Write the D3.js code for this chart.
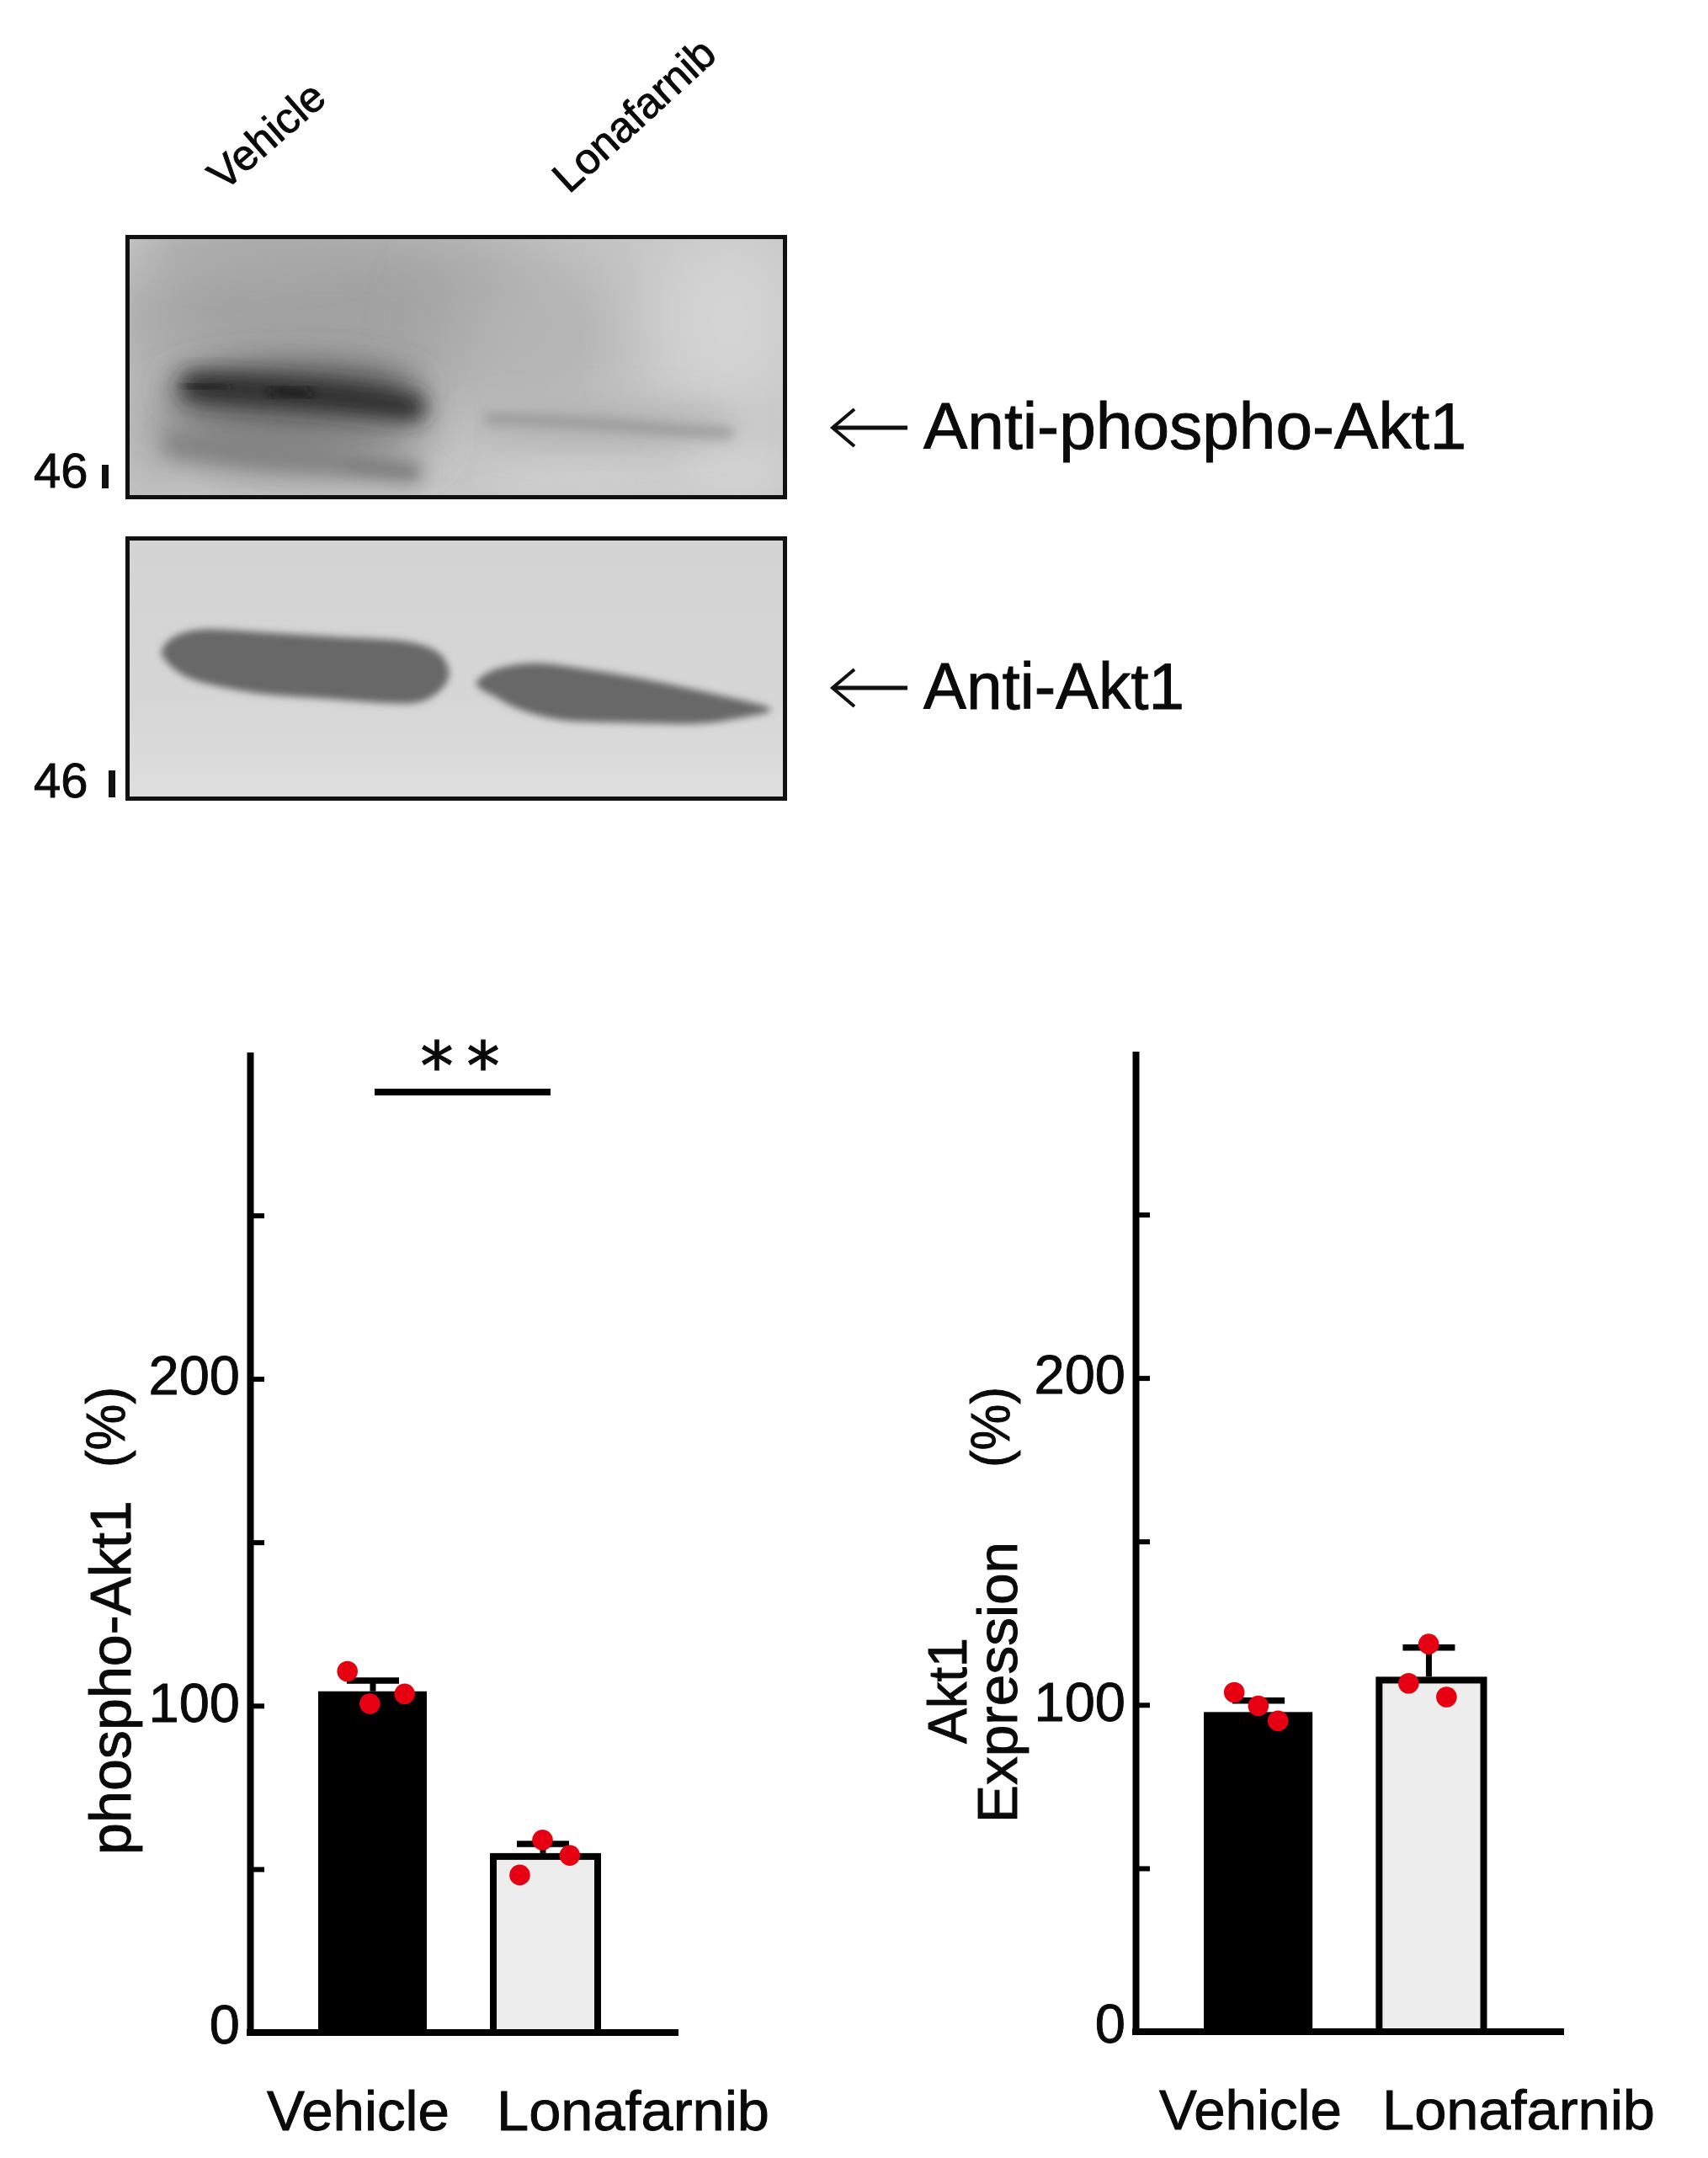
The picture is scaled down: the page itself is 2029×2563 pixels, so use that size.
<!DOCTYPE html>
<html><head><meta charset="utf-8">
<script src="https://cdnjs.cloudflare.com/ajax/libs/d3/7.8.5/d3.min.js"></script>
<style>
html,body{margin:0;padding:0;background:#fff}
svg{display:block;filter:blur(0.7px)}
text{font-family:"Liberation Sans",Arial,sans-serif;fill:#0a0a0a;stroke:#0a0a0a;stroke-width:0.9px}
</style></head><body>
<script>
// ---- data ----
const categories = ["Vehicle", "Lonafarnib"];
const yTicks = [0, 50, 100, 150, 200, 250];
const yLabelled = [0, 100, 200];

const phosphoMeans = [104.4, 54.9];
const phosphoErrors = [107.7, 57.7];
const phosphoPoints = [[110.5, 100.6, 103.6], [58.9, 54.2, 48.2]];
const phosphoJitter = [[-0.233, -0.028, 0.29], [-0.027, 0.222, -0.235]];

const exprMeans = [97.8, 108.6];
const exprErrors = [101.3, 117.5];
const exprPoints = [[103.8, 99.7, 95.1], [118.6, 106.6, 102.4]];
const exprJitter = [[-0.222, -0.002, 0.178], [-0.025, -0.208, 0.138]];

const blotLanes = ["Vehicle", "Lonafarnib"];
const blotMarker = "46";
const blotTargets = ["Anti-phospho-Akt1", "Anti-Akt1"];

// ---- page ----
const W = 2029, H = 2563;
const svg = d3.select("body").append("svg").attr("width", W).attr("height", H);
const defs = svg.append("defs");
[3, 4, 7, 10, 12, 20, 30, 45].forEach(s => defs.append("filter").attr("id", "b" + s)
  .attr("x", "-60%").attr("y", "-150%").attr("width", "220%").attr("height", "400%")
  .append("feGaussianBlur").attr("stdDeviation", s));

function clip(id, x, y, w, h) {
  defs.append("clipPath").attr("id", id).append("rect").attr("x", x).attr("y", y).attr("width", w).attr("height", h);
}
const curve = d3.line().curve(d3.curveCardinalClosed.tension(0.1));
const open = d3.line().curve(d3.curveCatmullRom);

// ---- upper blot ----
clip("c1", 151, 281, 782, 310);
const b1 = svg.append("g").attr("clip-path", "url(#c1)");
b1.append("rect").attr("x", 151).attr("y", 281).attr("width", 782).attr("height", 310).attr("fill", "#c6c6c6");
const blobs1 = [
  [170, 480, 50, 130, "#bdbdbd", 20],
  [400, 370, 260, 110, "#a2a2a2", 45],
  [640, 400, 110, 90, "#b4b4b4", 45],
  [300, 300, 120, 22, "#a9a9a9", 20],
  [865, 380, 80, 110, "#d6d6d6", 45],
  [700, 570, 120, 25, "#cfcfcf", 20],
  [870, 560, 70, 40, "#d2d2d2", 20],
  [345, 508, 165, 50, "#808080", 30],
  [350, 462, 150, 30, "#5c5c5c", 20],
  [720, 505, 160, 22, "#b0b0b0", 20]
];
b1.selectAll("ellipse").data(blobs1).join("ellipse")
  .attr("cx", d => d[0]).attr("cy", d => d[1]).attr("rx", d => d[2]).attr("ry", d => d[3])
  .attr("fill", d => d[4]).attr("filter", d => `url(#b${d[5]})`);
const streaks1 = [
  [[[205, 528], [300, 540], [400, 550], [490, 562]], "#7e7e7e", 24, 12],
  [[[415, 552], [490, 560]], "#7c7c7c", 8, 7],
  [[[232, 460], [330, 466], [420, 474], [490, 484]], "#2a2a2a", 32, 12],
  [[[325, 464], [365, 468]], "#181818", 10, 7],
  [[[225, 458], [265, 460]], "#222222", 10, 7],
  [[[580, 497], [690, 502], [790, 510], [865, 514]], "#959595", 11, 7]
];
b1.selectAll("path").data(streaks1).join("path").attr("d", d => open(d[0])).attr("fill", "none")
  .attr("stroke", d => d[1]).attr("stroke-width", d => d[2]).attr("stroke-linecap", "round")
  .attr("filter", d => `url(#b${d[3]})`);
svg.append("rect").attr("x", 151.5).attr("y", 281.5).attr("width", 781).attr("height", 309)
  .attr("fill", "none").attr("stroke", "#111").attr("stroke-width", 5);

// ---- lower blot ----
clip("c2", 151, 639, 782, 311);
const grad = defs.append("linearGradient").attr("id", "g2").attr("x1", 0).attr("y1", 0).attr("x2", 0).attr("y2", 1);
grad.append("stop").attr("offset", 0).attr("stop-color", "#d3d3d3");
grad.append("stop").attr("offset", 0.6).attr("stop-color", "#d6d6d6");
grad.append("stop").attr("offset", 1).attr("stop-color", "#dedede");
const b2 = svg.append("g").attr("clip-path", "url(#c2)");
b2.append("rect").attr("x", 151).attr("y", 639).attr("width", 782).attr("height", 311).attr("fill", "url(#g2)");
const bands2 = [
  [[193, 778], [205, 758], [242, 748], [320, 752], [400, 757], [480, 762], [520, 775], [533, 800], [520, 822], [485, 835], [383, 829], [300, 822], [225, 805]],
  [[566, 812], [590, 795], [638, 788], [700, 796], [765, 807], [850, 825], [915, 842], [880, 852], [829, 859], [750, 858], [670, 855], [620, 843], [590, 828]]
];
b2.selectAll("path").data(bands2).join("path").attr("d", d => curve(d)).attr("fill", "#676767")
  .attr("stroke", "#676767").attr("stroke-width", 1).attr("filter", "url(#b4)");
svg.append("rect").attr("x", 151.5).attr("y", 639.5).attr("width", 781).attr("height", 309)
  .attr("fill", "none").attr("stroke", "#111").attr("stroke-width", 5);

// ---- blot annotation ----
svg.selectAll("text.lane").data(blotLanes).join("text").attr("class", "lane")
  .attr("transform", (d, i) => `translate(${[266, 676][i]},${[228, 231][i]}) rotate(${[-41, -42.5][i]})`)
  .attr("font-size", 51).text(d => d);
[[40, 579, 120, 552, 580], [40, 947, 128, 915, 947]].forEach(m => {
  svg.append("text").attr("x", m[0]).attr("y", m[1]).attr("font-size", 58).text(blotMarker);
  svg.append("line").attr("x1", m[2] + 5).attr("x2", m[2] + 5).attr("y1", m[3]).attr("y2", m[4])
    .attr("stroke", "#111").attr("stroke-width", 8);
});
[[508, 533, 645], [817, 842, 310]].forEach((a, i) => {
  const y = a[0];
  svg.append("path").attr("d", d3.line()([[1078, y], [990, y]])).attr("stroke", "#111").attr("stroke-width", 5).attr("fill", "none");
  svg.append("path").attr("d", d3.line()([[1015, y - 22], [989, y], [1015, y + 22]])).attr("stroke", "#111").attr("stroke-width", 4).attr("fill", "none");
  svg.append("text").attr("x", 1097).attr("y", a[1]).attr("font-size", 77)
    .attr("textLength", a[2]).attr("lengthAdjust", "spacingAndGlyphs").text(blotTargets[i]);
});

// ---- bar panels ----
function panel(o) {
  const y = d3.scaleLinear().domain([0, 300]).range([o.y0, o.y0 - 3.882 * 300]);
  const x = d3.scaleBand().domain(categories).range(o.xr).paddingInner(0.366).paddingOuter(0);
  const g = svg.append("g");
  const axis = g.append("g").attr("transform", `translate(${o.ax},0)`)
    .call(d3.axisLeft(y).tickValues(yTicks).tickSize(-17).tickSizeOuter(0).tickPadding(12)
      .tickFormat(d => yLabelled.includes(d) ? d : ""));
  axis.select(".domain").attr("stroke", "#000").attr("stroke-width", 8);
  axis.selectAll(".tick line").attr("stroke", "#000").attr("stroke-width", 6);
  axis.selectAll(".tick text").attr("font-size", 65).attr("font-family", "Liberation Sans")
    .attr("fill", "#0a0a0a").attr("dy", d => d === 0 ? 12.5 : d === 100 ? 19 : 18);
  g.append("line").attr("x1", o.ax - 4).attr("x2", o.xEnd).attr("y1", y(0)).attr("y2", y(0))
    .attr("stroke", "#000").attr("stroke-width", 8);

  const bars = categories.map((c, i) => ({c, i, v: o.means[i], e: o.errors[i], pts: o.points[i], jit: o.jitter[i]}));
  g.selectAll("rect.bar").data(bars).join("rect").attr("class", "bar")
    .attr("x", d => x(d.c) + (d.i ? 3 : 0))
    .attr("width", d => x.bandwidth() - (d.i ? 6 : 1))
    .attr("y", d => y(d.v) + (d.i ? 4 : 0))
    .attr("height", d => y(0) - y(d.v) - (d.i ? 4 : 0))
    .attr("fill", d => d.i ? "#ededed" : "#000")
    .attr("stroke", d => d.i ? "#000" : "none").attr("stroke-width", 8);
  const cx = d => x(d.c) + x.bandwidth() / 2 - (d.i ? 3 : 0);
  g.selectAll("line.stem").data(bars).join("line").attr("class", "stem")
    .attr("x1", cx).attr("x2", cx).attr("y1", d => y(d.v)).attr("y2", d => y(d.e))
    .attr("stroke", "#000").attr("stroke-width", 7);
  g.selectAll("line.cap").data(bars).join("line").attr("class", "cap")
    .attr("x1", d => cx(d) - 31).attr("x2", d => cx(d) + 31).attr("y1", d => y(d.e)).attr("y2", d => y(d.e))
    .attr("stroke", "#000").attr("stroke-width", 7.5);
  const pts = bars.flatMap(b => b.pts.map((v, k) => ({v, px: x(b.c) + x.bandwidth() / 2 + b.jit[k] * x.bandwidth()})));
  g.selectAll("circle").data(pts).join("circle")
    .attr("cx", d => d.px).attr("cy", d => y(d.v)).attr("r", 12.3).attr("fill", "#e60012");

  g.selectAll("text.xl").data(categories).join("text").attr("class", "xl")
    .attr("x", (d, i) => o.labelX[i]).attr("y", o.labelY).attr("font-size", 66)
    .attr("textLength", (d, i) => [217, 324][i]).attr("lengthAdjust", "spacingAndGlyphs").text(d => d);
  return g;
}

const gA = panel({y0: 2414, ax: 297, xr: [378, 713], xEnd: 806, means: phosphoMeans, errors: phosphoErrors,
  points: phosphoPoints, jitter: phosphoJitter, labelX: [317, 590], labelY: 2530});
const gB = panel({y0: 2413, ax: 1349, xr: [1430, 1765.5], xEnd: 1858, means: exprMeans, errors: exprErrors,
  points: exprPoints, jitter: exprJitter, labelX: [1377, 1642], labelY: 2529});

// y titles
function vtext(x, y, size, s, len) {
  const t = svg.append("text").attr("transform", `translate(${x},${y}) rotate(-90)`).attr("font-size", size).text(s);
  if (len) t.attr("textLength", len).attr("lengthAdjust", "spacingAndGlyphs");
}
vtext(155, 2203, 68, "phospho-Akt1", 421);
vtext(148, 1743, 65, "(%)", 96);
vtext(1148, 2071, 65, "Akt1", 126);
vtext(1208, 2165, 67, "Expression", 334);
vtext(1199, 1743, 65, "(%)", 96);

// significance
svg.append("line").attr("x1", 445).attr("x2", 654).attr("y1", 1297).attr("y2", 1297).attr("stroke", "#000").attr("stroke-width", 8);
svg.selectAll("text.star").data([519, 574]).join("text").attr("class", "star")
  .attr("x", d => d).attr("y", 1293).attr("text-anchor", "middle")
  .attr("font-size", 78).style("font-family", "DejaVu Sans").style("stroke-width", "1.2px").text("*");
</script>
</body></html>
